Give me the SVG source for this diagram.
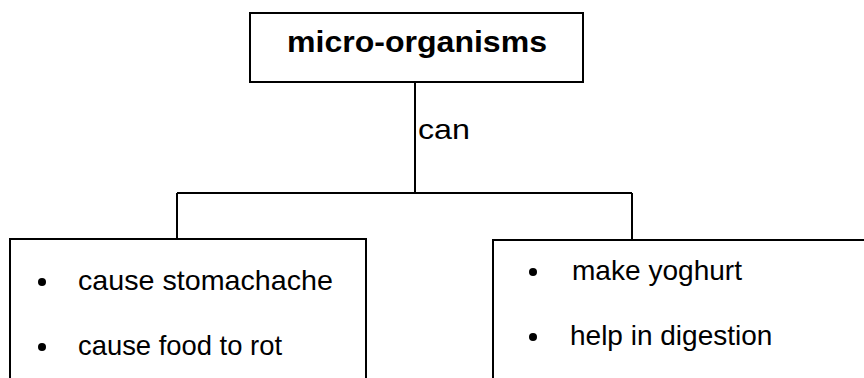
<svg xmlns="http://www.w3.org/2000/svg" width="864" height="378" viewBox="0 0 864 378">
<style>
.box{fill:#fff;stroke:#000;stroke-width:2}
.ln{fill:none;stroke:#000;stroke-width:2}
.t{font-family:"Liberation Sans",Arial,sans-serif;font-size:28px;fill:#000}
.b{font-family:"Liberation Sans",Arial,sans-serif;font-size:30px;font-weight:bold;fill:#000}
.dot{fill:#000}
</style>
<rect width="864" height="378" fill="#fff"/>
<g id="connectors">
<path class="ln" d="M415 82 V193 M177 193 H632 M177 193 V239 M632 193 V240"/>
<text class="t" x="418" y="139" textLength="52" lengthAdjust="spacingAndGlyphs">can</text>
</g>
<g id="node-micro-organisms">
<rect class="box" x="250" y="13" width="333" height="69"/>
<text class="b" x="287" y="52" textLength="260" lengthAdjust="spacingAndGlyphs">micro-organisms</text>
</g>
<g id="node-harmful">
<path class="box" d="M10 380 V239 H366 V380"/>
<circle class="dot" cx="42" cy="282" r="4"/>
<text class="t" x="78" y="290" textLength="255" lengthAdjust="spacingAndGlyphs">cause stomachache</text>
<circle class="dot" cx="42" cy="347" r="4"/>
<text class="t" x="78" y="355" textLength="204" lengthAdjust="spacingAndGlyphs">cause food to rot</text>
</g>
<g id="node-useful">
<path class="box" d="M493 380 V240 H866"/>
<circle class="dot" cx="533" cy="272" r="4"/>
<text class="t" x="572" y="280" textLength="170" lengthAdjust="spacingAndGlyphs">make yoghurt</text>
<circle class="dot" cx="533" cy="337" r="4"/>
<text class="t" x="570" y="345">help in digestion</text>
</g>
</svg>
